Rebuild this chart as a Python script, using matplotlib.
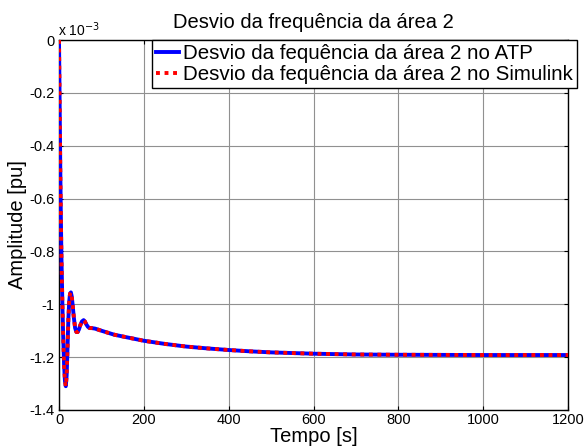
import matplotlib
matplotlib.use("Agg")
import matplotlib.pyplot as plt
import numpy as np

plt.rcParams['font.family'] = ['Liberation Sans', 'DejaVu Sans']

# Time [s] and frequency deviation (x 1e-3 pu)
tempo = [0, 1, 2, 3, 4, 5, 6, 8, 10, 12, 14, 16, 18, 20, 22, 24, 26, 28, 30, 32,
         35, 38, 41, 44, 47, 50, 54, 58, 61, 64, 68, 72, 77, 85, 100, 130, 160,
         200, 250, 300, 350, 400, 450, 500, 600, 700, 800, 1000, 1200]
desvio_atp = [0, -0.15, -0.32, -0.48, -0.62, -0.74, -0.84, -1.0, -1.13, -1.23,
              -1.29, -1.31, -1.27, -1.17, -1.06, -0.99, -0.96, -0.955, -0.97,
              -1.0, -1.05, -1.09, -1.105, -1.105, -1.095, -1.08, -1.065, -1.06,
              -1.065, -1.075, -1.085, -1.09, -1.09, -1.092, -1.10, -1.115,
              -1.125, -1.138, -1.15, -1.16, -1.167, -1.173, -1.178, -1.182,
              -1.187, -1.19, -1.191, -1.192, -1.192]
desvio_simulink = list(desvio_atp)

xticks = [0, 200, 400, 600, 800, 1000, 1200]
yticks = [-1.4, -1.2, -1.0, -0.8, -0.6, -0.4, -0.2, 0]
ytick_labels = ['-1.4', '-1.2', '-1', '-0.8', '-0.6', '-0.4', '-0.2', '0']

fig = plt.figure(figsize=(5.84, 4.47), dpi=100)
ax = fig.add_axes([59/584, 1-410/447, (568-59)/584, (410-40)/447])

ax.plot(tempo, desvio_atp, color='#0000ff', lw=2.8, solid_joinstyle='round',
        label='Desvio da fequência da área 2 no ATP', zorder=3)
ax.plot(tempo, desvio_simulink, color='#ff0000', lw=2.8, linestyle=(0, (1, 1.2)),
        label='Desvio da fequência da área 2 no Simulink', zorder=4)

ax.set_xlim(0, 1200)
ax.set_ylim(-1.4, 0)
ax.set_xticks(xticks)
ax.set_yticks(yticks)
ax.set_yticklabels(ytick_labels)
ax.tick_params(direction='in', top=True, right=True, labelsize=10.5, length=3,
               width=0.8, pad=3)
ax.tick_params(axis='x', pad=2)
ax.grid(True, color='#909090', lw=0.8)
for s in ax.spines.values():
    s.set_linewidth(1.0)
    s.set_color('black')
    s.set_zorder(2.5)

ax.set_title('Desvio da frequência da área 2', fontsize=14.5, pad=9)
ax.set_xlabel('Tempo [s]', fontsize=14.5, labelpad=0)
ax.set_ylabel('Amplitude [pu]', fontsize=14.5, labelpad=2)
ax.text(-0.002, 1.002, 'x 10$^{-3}$', transform=ax.transAxes, fontsize=10,
        ha='left', va='bottom')

leg = ax.legend(loc='upper right', bbox_to_anchor=(577/584, 1-40/447),
                bbox_transform=fig.transFigure, fontsize=14.8, frameon=True,
                fancybox=False, edgecolor='black', framealpha=1,
                borderaxespad=0, handlelength=1.1, handletextpad=0.2,
                borderpad=0.2, labelspacing=0.1)
leg.get_frame().set_linewidth(1.0)

fig.savefig('out.png', dpi=100)
